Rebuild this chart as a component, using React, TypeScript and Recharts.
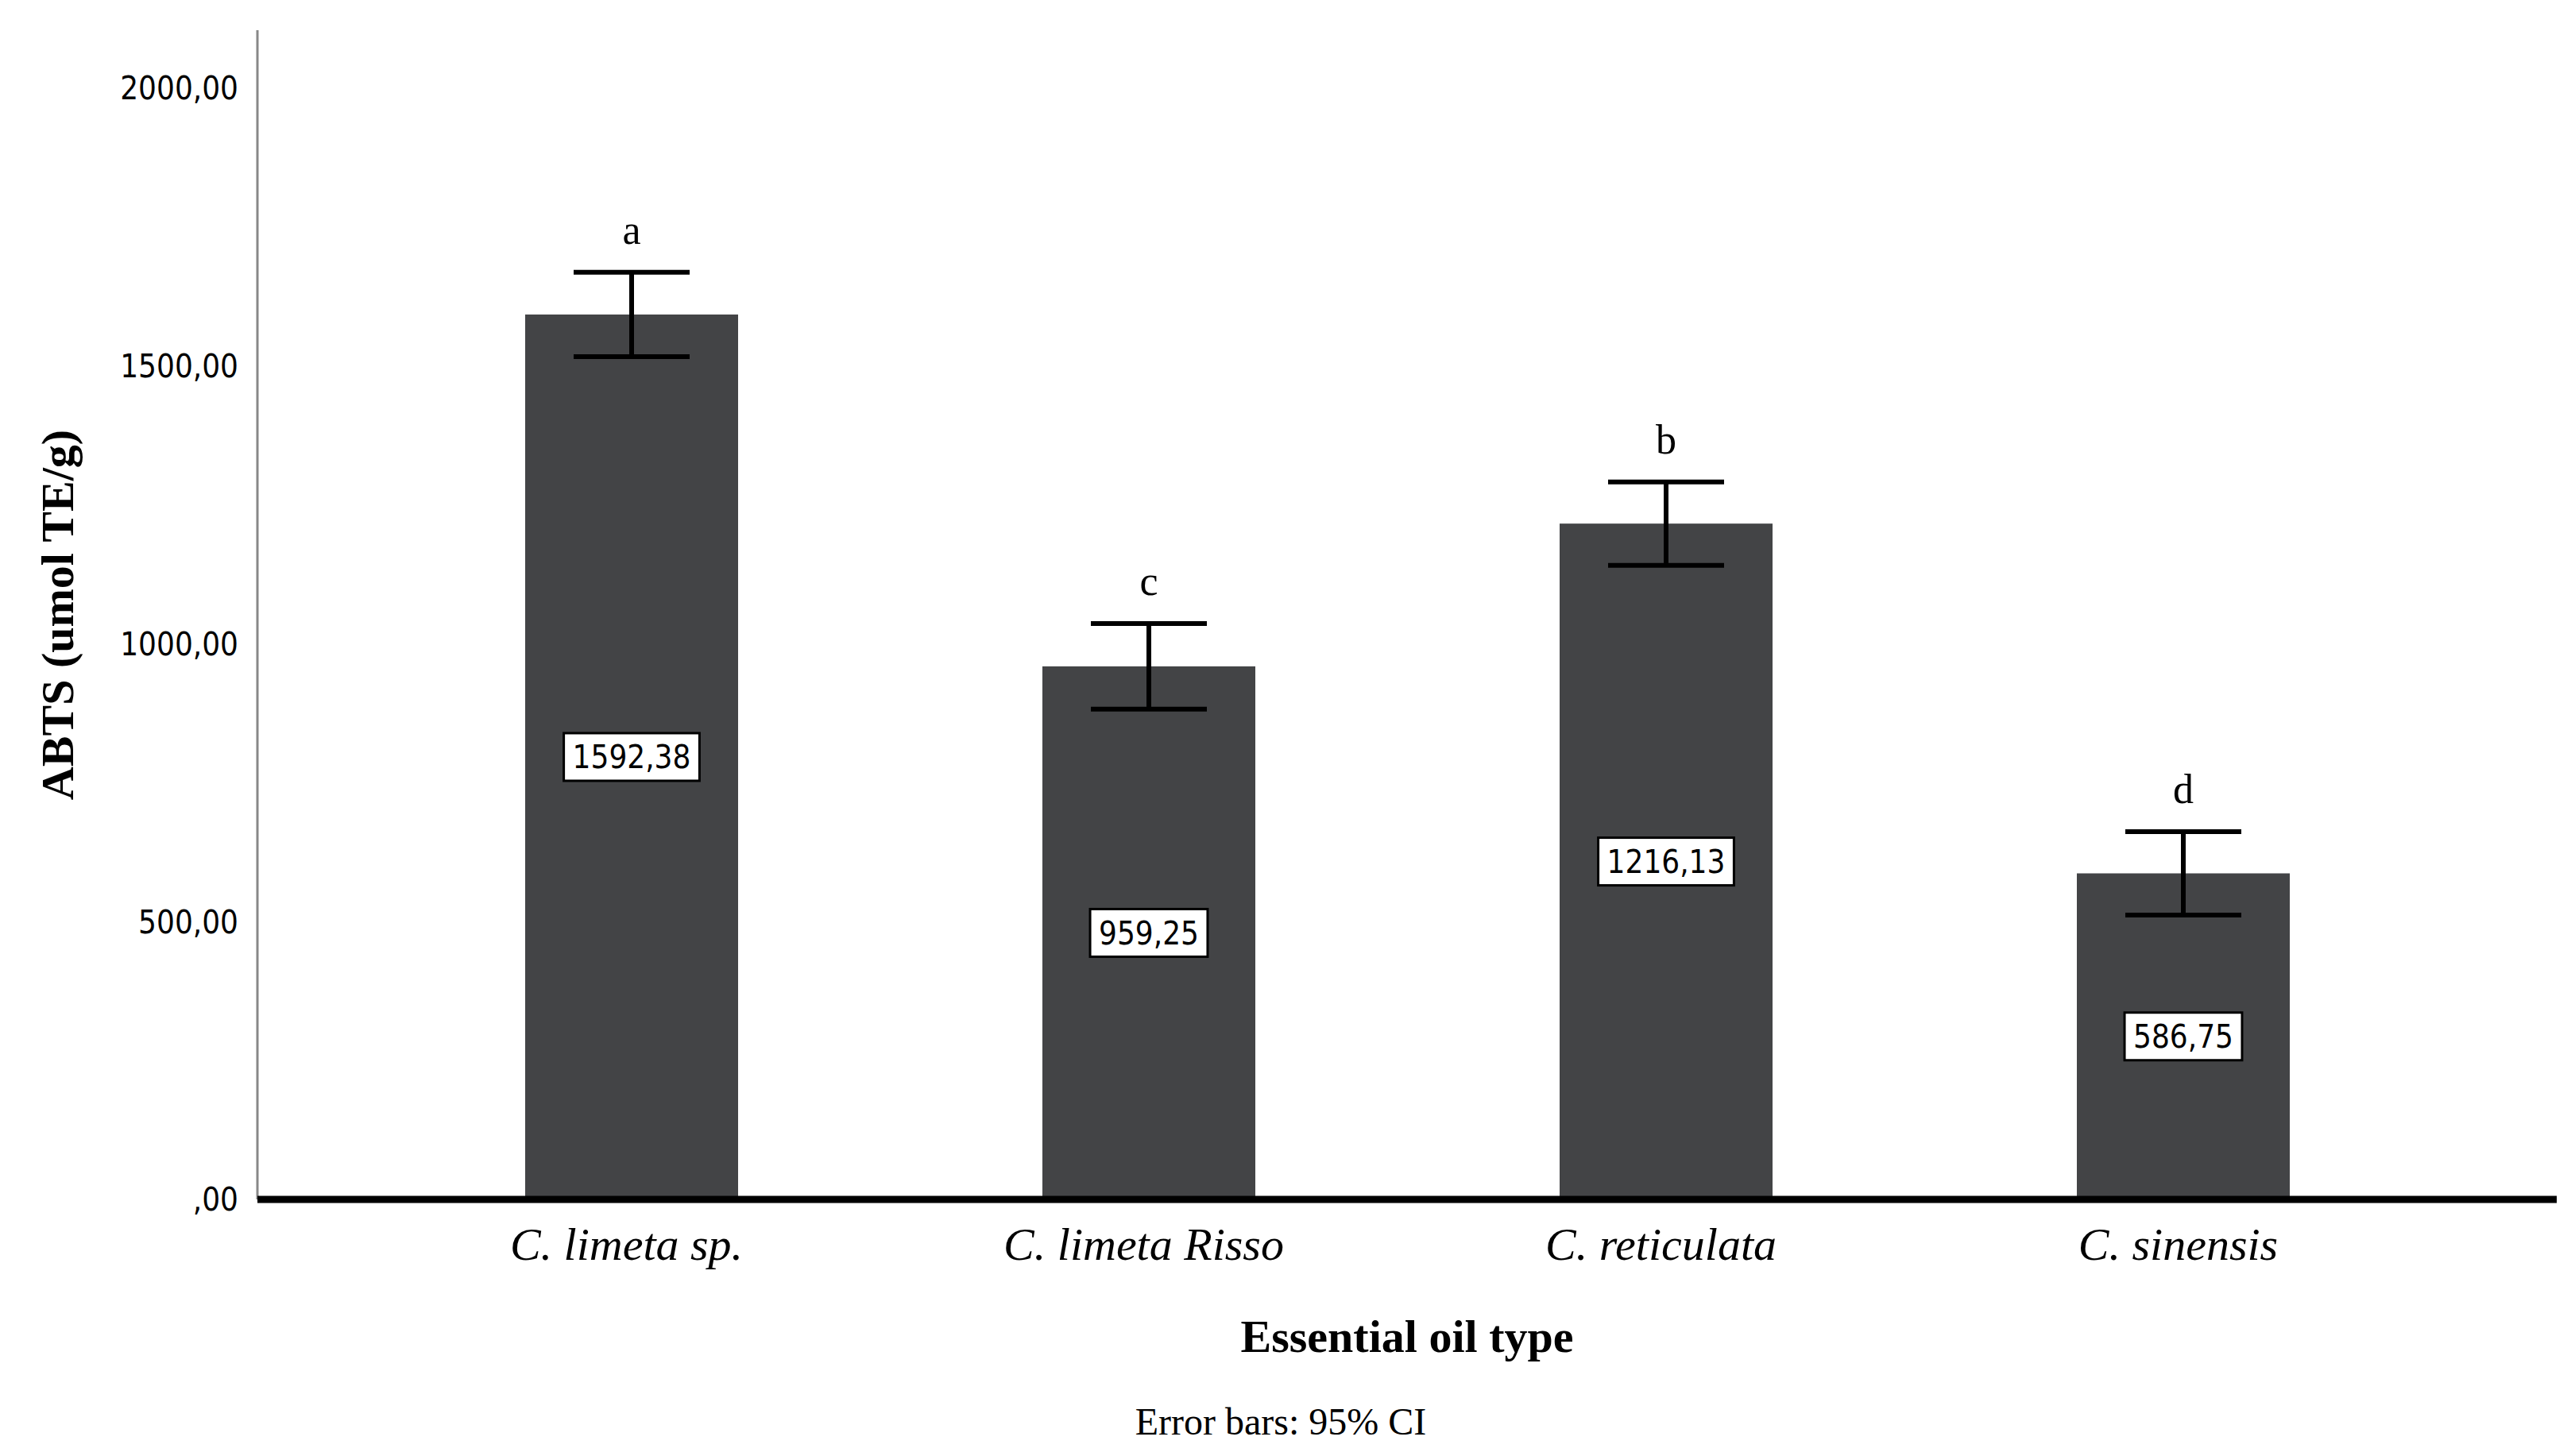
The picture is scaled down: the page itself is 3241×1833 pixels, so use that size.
import { BarChart, Bar, XAxis, YAxis, ErrorBar } from "recharts";

const categories = ["C. limeta sp.", "C. limeta Risso", "C. reticulata", "C. sinensis"];
const means = [1592.38, 959.25, 1216.13, 586.75];
const ci95 = [76, 77, 75, 75];
const groupLetters = ["a", "c", "b", "d"];
const yTicks = [0, 500, 1000, 1500, 2000];

const data = categories.map((name, i) => ({
  name,
  mean: means[i],
  ci: ci95[i],
  letter: groupLetters[i],
}));

const SANS = "'DejaVu Sans Condensed', 'DejaVu Sans', sans-serif";
const SERIF = "'Liberation Serif', 'DejaVu Serif', serif";
const BAR_FILL = "#434446";

const fmt = (v: number) => (v === 0 ? ",00" : v.toFixed(2).replace(".", ","));

function BarShape(props: any) {
  const { x, y, width, height, payload } = props;
  const cx = x + width / 2;
  const cy = y + height / 2;
  const label = fmt(payload.mean);
  const boxW = (label.length - 1) * 22.9 + 11.4 + 22;
  const pxPerUnit = height / payload.mean;
  const errTop = y - payload.ci * pxPerUnit;
  return (
    <g>
      <rect x={x} y={y} width={width} height={height} fill={BAR_FILL} />
      <rect
        x={cx - boxW / 2}
        y={cy - 30}
        width={boxW}
        height={60}
        fill="#fff"
        stroke="#000"
        strokeWidth={3}
      />
      <text
        x={cx}
        y={cy}
        dy="0.36em"
        textAnchor="middle"
        fontFamily={SANS}
        fontStretch="condensed"
        fontSize={40}
        fill="#000"
      >
        {label}
      </text>
      <text
        x={cx}
        y={errTop - 36}
        textAnchor="middle"
        fontFamily={SERIF}
        fontSize={52}
        fill="#000"
      >
        {payload.letter}
      </text>
    </g>
  );
}

function XTick(props: any) {
  const { x, y, payload } = props;
  return (
    <text
      x={x - 6}
      y={y + 76}
      textAnchor="middle"
      fontFamily={SERIF}
      fontStyle="italic"
      fontSize={58}
      fill="#000"
    >
      {payload.value}
    </text>
  );
}

function YTick(props: any) {
  const { x, y, payload } = props;
  return (
    <text
      x={x - 24}
      y={y}
      dy="0.36em"
      textAnchor="end"
      fontFamily={SANS}
      fontStretch="condensed"
      fontSize={40}
      fill="#000"
    >
      {fmt(payload.value)}
    </text>
  );
}

function YTitle(props: any) {
  const vb = props.viewBox || {};
  const cx = vb.x + 72;
  const cy = vb.y + vb.height / 2;
  return (
    <text
      x={cx}
      y={cy}
      dy="0.35em"
      transform={`rotate(-90 ${cx} ${cy})`}
      textAnchor="middle"
      fontFamily={SERIF}
      fontWeight="bold"
      fontSize={58}
      fill="#000"
    >
      ABTS (umol TE/g)
    </text>
  );
}

function XTitle(props: any) {
  const vb = props.viewBox || {};
  return (
    <text
      x={vb.x + vb.width / 2}
      y={vb.y + 192}
      textAnchor="middle"
      fontFamily={SERIF}
      fontWeight="bold"
      fontSize={58}
      fill="#000"
    >
      Essential oil type
    </text>
  );
}

export default function App() {
  return (
    <div style={{ position: "absolute", left: 0, top: 0, width: 3241, height: 1833, background: "#fff" }}>
      <BarChart
        width={3241}
        height={1833}
        data={data}
        margin={{ top: 38, right: 23, bottom: 0, left: 0 }}
      >
        <YAxis
          width={324}
          domain={[0, 2104]}
          ticks={yTicks}
          allowDataOverflow
          axisLine={{ stroke: "#888", strokeWidth: 3 }}
          tickLine={false}
          tickSize={0}
          tickMargin={0}
          tick={<YTick />}
          label={YTitle}
        />
        <XAxis
          dataKey="name"
          height={323}
          padding={{ left: 145, right: 145 }}
          axisLine={{ stroke: "#000", strokeWidth: 9 }}
          tickLine={false}
          tickSize={0}
          tickMargin={0}
          tick={<XTick />}
          interval={0}
          label={XTitle}
        />
        <Bar dataKey="mean" barSize={268} fill={BAR_FILL} shape={<BarShape />} isAnimationActive={false}>
          <ErrorBar dataKey="ci" width={73} stroke="#000" strokeWidth={6} isAnimationActive={false} />
        </Bar>
      </BarChart>
      <div
        style={{
          position: "absolute",
          left: 1612,
          top: 1790,
          transform: "translate(-50%, -50%)",
          fontFamily: SERIF,
          fontSize: 48,
          lineHeight: 1,
          whiteSpace: "nowrap",
          color: "#000",
        }}
      >
        Error bars: 95% CI
      </div>
    </div>
  );
}
